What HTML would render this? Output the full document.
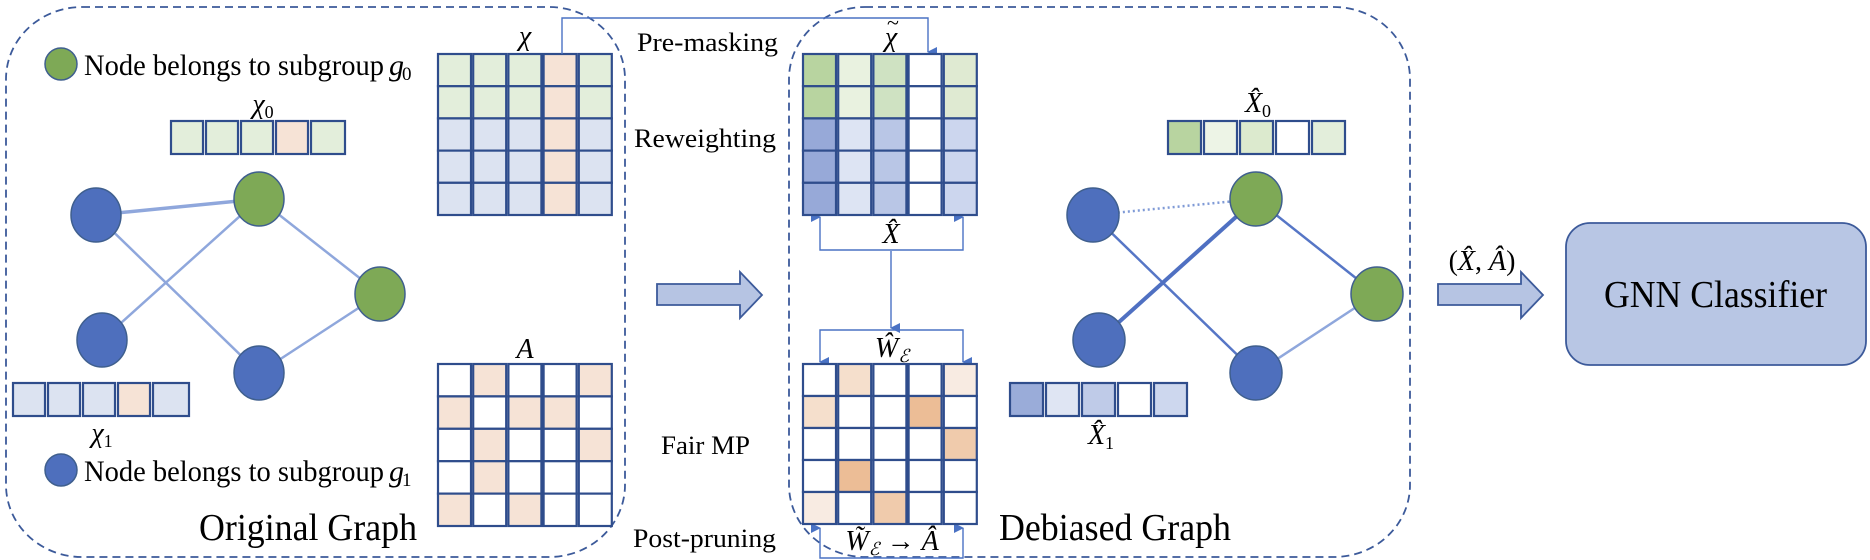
<!DOCTYPE html>
<html><head><meta charset="utf-8"><style>
html,body{margin:0;padding:0;background:#fff;}
svg{display:block;}
text{font-family:"Liberation Serif",serif;fill:#000;}
.m{font-style:italic;}
.c rect{stroke:#2f4d8c;stroke-width:2.2;}
</style></head><body>
<svg width="1870" height="560" viewBox="0 0 1870 560" xmlns="http://www.w3.org/2000/svg">
<defs>
<marker id="ah" markerWidth="10" markerHeight="10" refX="5" refY="9" orient="auto-start-reverse" markerUnits="userSpaceOnUse" viewBox="0 0 10 10">
<path d="M0,0 L10,0 L5,10 Z" fill="#4a72c4"/></marker>
</defs>
<rect x="6" y="7" width="619" height="550" rx="76" ry="72" fill="none" stroke="#3c5a9a" stroke-width="1.8" stroke-dasharray="8,5"/>
<rect x="789" y="7" width="621" height="550" rx="76" ry="72" fill="none" stroke="#3c5a9a" stroke-width="1.8" stroke-dasharray="8,5"/>

<circle cx="61" cy="64" r="16" fill="#7ea956" stroke="#3f5f8e" stroke-width="1.5"/>
<text x="84" y="75" font-size="30" textLength="300" lengthAdjust="spacingAndGlyphs">Node belongs to subgroup</text>
<text x="389" y="75" font-size="30" class="m">g</text><text x="402" y="80" font-size="19">0</text>
<circle cx="61" cy="470" r="16" fill="#4e6fbd" stroke="#3f5f8e" stroke-width="1.5"/>
<text x="84" y="481" font-size="30" textLength="300" lengthAdjust="spacingAndGlyphs">Node belongs to subgroup</text>
<text x="389" y="481" font-size="30" class="m">g</text><text x="402" y="486" font-size="19">1</text>
<text x="199" y="540" font-size="38" textLength="218" lengthAdjust="spacingAndGlyphs">Original Graph</text>
<text x="999" y="540" font-size="38" textLength="232" lengthAdjust="spacingAndGlyphs">Debiased Graph</text>

<g stroke="#8fa7dc" stroke-width="2.5">
<line x1="96" y1="215" x2="259" y2="199" stroke-width="3.5"/>
<line x1="96" y1="215" x2="259" y2="373"/>
<line x1="102" y1="340" x2="259" y2="199"/>
<line x1="259" y1="199" x2="380" y2="294"/>
<line x1="259" y1="373" x2="380" y2="294"/>
</g>
<g stroke="#3f5f8e" stroke-width="1.5">
<ellipse cx="96" cy="215" rx="25" ry="27" fill="#4e6fbd"/>
<ellipse cx="102" cy="340" rx="25" ry="27" fill="#4e6fbd"/>
<ellipse cx="259" cy="199" rx="25" ry="27" fill="#7ea956"/>
<ellipse cx="259" cy="373" rx="25" ry="27" fill="#4e6fbd"/>
<ellipse cx="380" cy="294" rx="25" ry="27" fill="#7ea956"/>
</g>

<text x="263" y="113" font-size="28" class="m" text-anchor="middle">χ<tspan font-size="18" font-style="normal" dy="5">0</tspan></text>
<g class="c">
<rect x="171" y="121" width="32" height="33" fill="#e3eedb"/>
<rect x="206" y="121" width="32" height="33" fill="#e3eedb"/>
<rect x="241" y="121" width="32" height="33" fill="#e3eedb"/>
<rect x="276" y="121" width="32" height="33" fill="#f6e3d6"/>
<rect x="311" y="121" width="34" height="33" fill="#e3eedb"/>
<rect x="13" y="383" width="32" height="33" fill="#dce3f1"/>
<rect x="48" y="383" width="32" height="33" fill="#dce3f1"/>
<rect x="83" y="383" width="32" height="33" fill="#dce3f1"/>
<rect x="118" y="383" width="32" height="33" fill="#f6e3d6"/>
<rect x="153" y="383" width="36" height="33" fill="#dce3f1"/>
</g>
<text x="102" y="442" font-size="28" class="m" text-anchor="middle">χ<tspan font-size="18" font-style="normal" dy="5">1</tspan></text>

<text x="525" y="45" font-size="28" class="m" text-anchor="middle">χ</text>
<g class="c">
<rect x="438" y="54" width="33" height="32.2" fill="#e3eedb"/><rect x="473.2" y="54" width="33" height="32.2" fill="#e3eedb"/><rect x="508.4" y="54" width="33" height="32.2" fill="#e3eedb"/><rect x="543.6" y="54" width="33" height="32.2" fill="#f6e3d6"/><rect x="578.8" y="54" width="33" height="32.2" fill="#e3eedb"/>
<rect x="438" y="86.2" width="33" height="32.2" fill="#e3eedb"/><rect x="473.2" y="86.2" width="33" height="32.2" fill="#e3eedb"/><rect x="508.4" y="86.2" width="33" height="32.2" fill="#e3eedb"/><rect x="543.6" y="86.2" width="33" height="32.2" fill="#f6e3d6"/><rect x="578.8" y="86.2" width="33" height="32.2" fill="#e3eedb"/>
<rect x="438" y="118.4" width="33" height="32.2" fill="#dce3f1"/><rect x="473.2" y="118.4" width="33" height="32.2" fill="#dce3f1"/><rect x="508.4" y="118.4" width="33" height="32.2" fill="#dce3f1"/><rect x="543.6" y="118.4" width="33" height="32.2" fill="#f6e3d6"/><rect x="578.8" y="118.4" width="33" height="32.2" fill="#dce3f1"/>
<rect x="438" y="150.6" width="33" height="32.2" fill="#dce3f1"/><rect x="473.2" y="150.6" width="33" height="32.2" fill="#dce3f1"/><rect x="508.4" y="150.6" width="33" height="32.2" fill="#dce3f1"/><rect x="543.6" y="150.6" width="33" height="32.2" fill="#f6e3d6"/><rect x="578.8" y="150.6" width="33" height="32.2" fill="#dce3f1"/>
<rect x="438" y="182.8" width="33" height="32.2" fill="#dce3f1"/><rect x="473.2" y="182.8" width="33" height="32.2" fill="#dce3f1"/><rect x="508.4" y="182.8" width="33" height="32.2" fill="#dce3f1"/><rect x="543.6" y="182.8" width="33" height="32.2" fill="#f6e3d6"/><rect x="578.8" y="182.8" width="33" height="32.2" fill="#dce3f1"/>
</g>

<text x="525" y="358" font-size="28" class="m" text-anchor="middle">A</text>
<g class="c">
<rect x="438" y="364" width="33" height="32.4" fill="#fff"/><rect x="473.2" y="364" width="33" height="32.4" fill="#f6e3d6"/><rect x="508.4" y="364" width="33" height="32.4" fill="#fff"/><rect x="543.6" y="364" width="33" height="32.4" fill="#fff"/><rect x="578.8" y="364" width="33" height="32.4" fill="#f6e3d6"/>
<rect x="438" y="396.4" width="33" height="32.4" fill="#f6e3d6"/><rect x="473.2" y="396.4" width="33" height="32.4" fill="#fff"/><rect x="508.4" y="396.4" width="33" height="32.4" fill="#f6e3d6"/><rect x="543.6" y="396.4" width="33" height="32.4" fill="#f6e3d6"/><rect x="578.8" y="396.4" width="33" height="32.4" fill="#fff"/>
<rect x="438" y="428.8" width="33" height="32.4" fill="#fff"/><rect x="473.2" y="428.8" width="33" height="32.4" fill="#f6e3d6"/><rect x="508.4" y="428.8" width="33" height="32.4" fill="#fff"/><rect x="543.6" y="428.8" width="33" height="32.4" fill="#fff"/><rect x="578.8" y="428.8" width="33" height="32.4" fill="#f6e3d6"/>
<rect x="438" y="461.2" width="33" height="32.4" fill="#fff"/><rect x="473.2" y="461.2" width="33" height="32.4" fill="#f6e3d6"/><rect x="508.4" y="461.2" width="33" height="32.4" fill="#fff"/><rect x="543.6" y="461.2" width="33" height="32.4" fill="#fff"/><rect x="578.8" y="461.2" width="33" height="32.4" fill="#fff"/>
<rect x="438" y="493.6" width="33" height="32.4" fill="#f6e3d6"/><rect x="473.2" y="493.6" width="33" height="32.4" fill="#fff"/><rect x="508.4" y="493.6" width="33" height="32.4" fill="#f6e3d6"/><rect x="543.6" y="493.6" width="33" height="32.4" fill="#fff"/><rect x="578.8" y="493.6" width="33" height="32.4" fill="#fff"/>
</g>

<text x="637" y="51" font-size="26" textLength="141" lengthAdjust="spacingAndGlyphs">Pre-masking</text>
<text x="634" y="147" font-size="26" textLength="142" lengthAdjust="spacingAndGlyphs">Reweighting</text>
<text x="661" y="454" font-size="26" textLength="89" lengthAdjust="spacingAndGlyphs">Fair MP</text>
<text x="633" y="547" font-size="26" textLength="143" lengthAdjust="spacingAndGlyphs">Post-pruning</text>

<path d="M657,284 L740,284 L740,272 L762,295 L740,318 L740,305 L657,305 Z" fill="#b6c4e3" stroke="#3c5a9a" stroke-width="1.8"/>
<path d="M1438,284 L1521,284 L1521,272 L1543,295 L1521,318 L1521,305 L1438,305 Z" fill="#b6c4e3" stroke="#3c5a9a" stroke-width="1.8"/>
<text x="1482" y="270" font-size="28" text-anchor="middle">(<tspan class="m">X̂</tspan>, <tspan class="m">Â</tspan>)</text>

<g fill="none" stroke="#4a72c4" stroke-width="1.4">
<polyline points="562,54 562,18 928,18 928,52" marker-end="url(#ah)"/>
<polyline points="820,217 820,250 963,250 963,217" marker-start="url(#ah)" marker-end="url(#ah)"/>
<line x1="891" y1="251" x2="891" y2="328" marker-end="url(#ah)"/>
<polyline points="820,362 820,330 963,330 963,362" marker-start="url(#ah)" marker-end="url(#ah)"/>
<polyline points="820,528 820,558 963,558 963,528" marker-start="url(#ah)" marker-end="url(#ah)"/>
</g>

<text x="891" y="46" font-size="28" class="m" text-anchor="middle">χ</text>
<text x="893" y="30" font-size="22" text-anchor="middle">~</text>
<g class="c">
<rect x="803" y="54" width="33" height="32.2" fill="#b8d4a0"/><rect x="838.2" y="54" width="33" height="32.2" fill="#e9f2e0"/><rect x="873.4" y="54" width="33" height="32.2" fill="#cfe2c2"/><rect x="908.6" y="54" width="33" height="32.2" fill="#fff"/><rect x="943.8" y="54" width="33" height="32.2" fill="#dfead2"/>
<rect x="803" y="86.2" width="33" height="32.2" fill="#b8d4a0"/><rect x="838.2" y="86.2" width="33" height="32.2" fill="#e9f2e0"/><rect x="873.4" y="86.2" width="33" height="32.2" fill="#cfe2c2"/><rect x="908.6" y="86.2" width="33" height="32.2" fill="#fff"/><rect x="943.8" y="86.2" width="33" height="32.2" fill="#dfead2"/>
<rect x="803" y="118.4" width="33" height="32.2" fill="#97a9d8"/><rect x="838.2" y="118.4" width="33" height="32.2" fill="#dde4f3"/><rect x="873.4" y="118.4" width="33" height="32.2" fill="#b9c6e6"/><rect x="908.6" y="118.4" width="33" height="32.2" fill="#fff"/><rect x="943.8" y="118.4" width="33" height="32.2" fill="#ccd6ee"/>
<rect x="803" y="150.6" width="33" height="32.2" fill="#97a9d8"/><rect x="838.2" y="150.6" width="33" height="32.2" fill="#dde4f3"/><rect x="873.4" y="150.6" width="33" height="32.2" fill="#b9c6e6"/><rect x="908.6" y="150.6" width="33" height="32.2" fill="#fff"/><rect x="943.8" y="150.6" width="33" height="32.2" fill="#ccd6ee"/>
<rect x="803" y="182.8" width="33" height="32.2" fill="#97a9d8"/><rect x="838.2" y="182.8" width="33" height="32.2" fill="#dde4f3"/><rect x="873.4" y="182.8" width="33" height="32.2" fill="#b9c6e6"/><rect x="908.6" y="182.8" width="33" height="32.2" fill="#fff"/><rect x="943.8" y="182.8" width="33" height="32.2" fill="#ccd6ee"/>
</g>
<text x="891" y="243" font-size="28" class="m" text-anchor="middle">X̂</text>
<text x="892" y="357" font-size="28" class="m" text-anchor="middle">Ŵ<tspan font-size="18" dy="5">ℰ</tspan></text>

<g class="c">
<rect x="803" y="364" width="33" height="32" fill="#fff"/><rect x="838.2" y="364" width="33" height="32" fill="#f5dfcc"/><rect x="873.4" y="364" width="33" height="32" fill="#fff"/><rect x="908.6" y="364" width="33" height="32" fill="#fff"/><rect x="943.8" y="364" width="33" height="32" fill="#f8ebe2"/>
<rect x="803" y="396" width="33" height="32" fill="#f5dfcc"/><rect x="838.2" y="396" width="33" height="32" fill="#fff"/><rect x="873.4" y="396" width="33" height="32" fill="#fff"/><rect x="908.6" y="396" width="33" height="32" fill="#ecbd96"/><rect x="943.8" y="396" width="33" height="32" fill="#fff"/>
<rect x="803" y="428" width="33" height="32" fill="#fff"/><rect x="838.2" y="428" width="33" height="32" fill="#fff"/><rect x="873.4" y="428" width="33" height="32" fill="#fff"/><rect x="908.6" y="428" width="33" height="32" fill="#fff"/><rect x="943.8" y="428" width="33" height="32" fill="#f0cbac"/>
<rect x="803" y="460" width="33" height="32" fill="#fff"/><rect x="838.2" y="460" width="33" height="32" fill="#ecbd96"/><rect x="873.4" y="460" width="33" height="32" fill="#fff"/><rect x="908.6" y="460" width="33" height="32" fill="#fff"/><rect x="943.8" y="460" width="33" height="32" fill="#fff"/>
<rect x="803" y="492" width="33" height="32" fill="#f8ebe2"/><rect x="838.2" y="492" width="33" height="32" fill="#fff"/><rect x="873.4" y="492" width="33" height="32" fill="#f0cbac"/><rect x="908.6" y="492" width="33" height="32" fill="#fff"/><rect x="943.8" y="492" width="33" height="32" fill="#fff"/>
</g>
<text x="892" y="550" font-size="28" class="m" text-anchor="middle">W̃<tspan font-size="18" dy="5">ℰ</tspan><tspan dy="-5" font-style="normal"> → </tspan>Â</text>

<g stroke-width="2.5">
<line x1="1093" y1="215" x2="1256" y2="199" stroke="#7f9ad6" stroke-dasharray="2,3"/>
<line x1="1093" y1="215" x2="1256" y2="373" stroke="#5676c6"/>
<line x1="1099" y1="340" x2="1256" y2="199" stroke="#4f70c2" stroke-width="4"/>
<line x1="1256" y1="199" x2="1376" y2="294" stroke="#5676c6"/>
<line x1="1256" y1="373" x2="1376" y2="294" stroke="#8fa7dc"/>
</g>
<g stroke="#3f5f8e" stroke-width="1.5">
<ellipse cx="1093" cy="215" rx="26" ry="27" fill="#4e6fbd"/>
<ellipse cx="1099" cy="340" rx="26" ry="27" fill="#4e6fbd"/>
<ellipse cx="1256" cy="199" rx="26" ry="27" fill="#7ea956"/>
<ellipse cx="1256" cy="373" rx="26" ry="27" fill="#4e6fbd"/>
<ellipse cx="1377" cy="294" rx="26" ry="27" fill="#7ea956"/>
</g>
<text x="1258" y="112" font-size="28" class="m" text-anchor="middle">X̂<tspan font-size="18" font-style="normal" dy="5">0</tspan></text>
<g class="c">
<rect x="1168" y="121" width="33" height="33" fill="#b8d4a0"/>
<rect x="1204" y="121" width="33" height="33" fill="#edf4e6"/>
<rect x="1240" y="121" width="33" height="33" fill="#dceace"/>
<rect x="1276" y="121" width="33" height="33" fill="#fff"/>
<rect x="1312" y="121" width="33" height="33" fill="#e3eedb"/>
<rect x="1010" y="383" width="33" height="33" fill="#9aacd9"/>
<rect x="1046" y="383" width="33" height="33" fill="#dfe5f3"/>
<rect x="1082" y="383" width="33" height="33" fill="#bfcbe8"/>
<rect x="1118" y="383" width="33" height="33" fill="#fff"/>
<rect x="1154" y="383" width="33" height="33" fill="#cdd7ee"/>
</g>
<text x="1101" y="444" font-size="28" class="m" text-anchor="middle">X̂<tspan font-size="18" font-style="normal" dy="5">1</tspan></text>

<rect x="1566" y="223" width="300" height="142" rx="24" ry="24" fill="#b8c6e4" stroke="#3c5a9a" stroke-width="1.8"/>
<text x="1604" y="307" font-size="38" textLength="223" lengthAdjust="spacingAndGlyphs">GNN Classifier</text>
</svg>
</body></html>
